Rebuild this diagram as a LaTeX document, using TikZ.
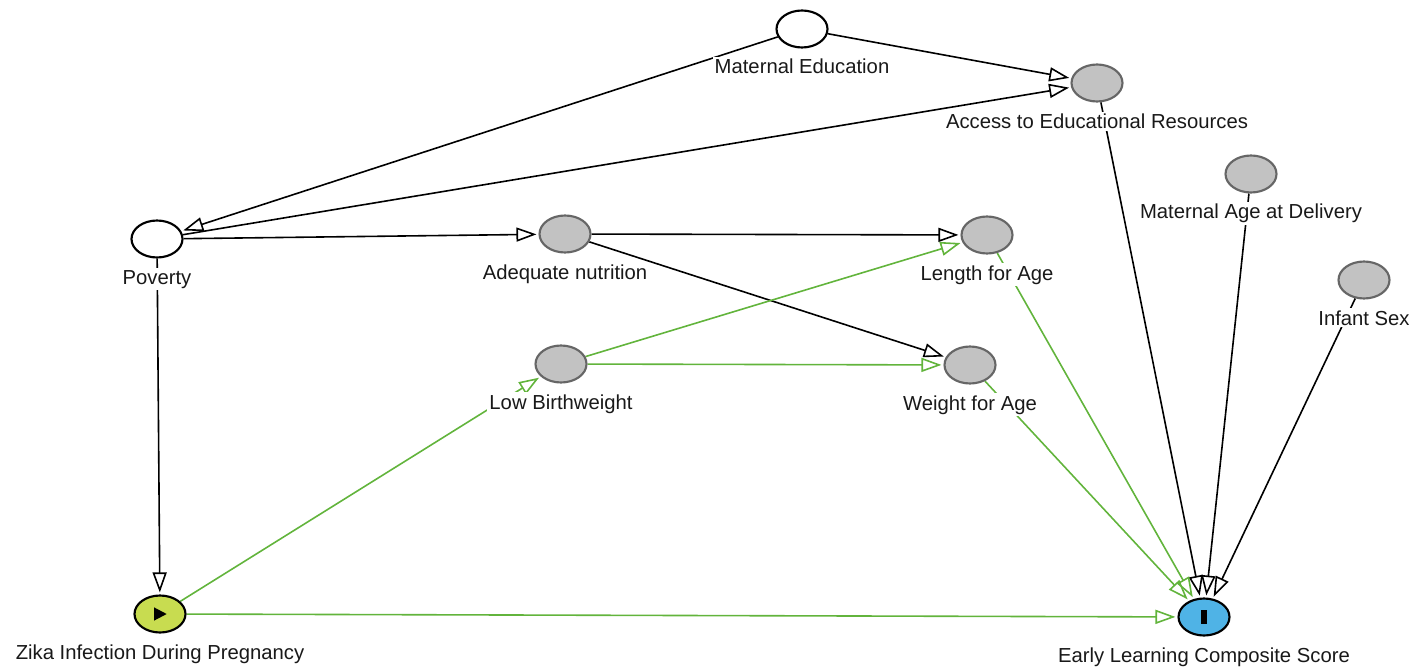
\documentclass[tikz,border=0pt]{standalone}
\usepackage{fontspec}
\setmainfont{Liberation Sans}
\usetikzlibrary{arrows.meta,shapes.geometric}
\pgfdeclarelayer{edges}
\pgfdeclarelayer{labels}
\pgfsetlayers{edges,labels,main}
\definecolor{nodegray}{HTML}{C2C2C2}
\definecolor{bordergray}{HTML}{666666}
\definecolor{expcol}{HTML}{C8DC50}
\definecolor{outcol}{HTML}{4FB3E6}
\definecolor{pathgreen}{HTML}{62B43C}
\tikzset{
  basenode/.style={ellipse, minimum width=38.25pt, minimum height=27.75pt, inner sep=0pt, line width=1.6pt},
  latent/.style={basenode, draw=black, fill=white},
  adjusted/.style={basenode, draw=bordergray, fill=nodegray},
  exposure/.style={basenode, draw=black, fill=expcol},
  outcome/.style={basenode, draw=black, fill=outcol},
  lbl/.style={anchor=base, fill=white, inner sep=1.5pt, text=black!90,
    font=\fontsize{15.2}{18}\selectfont},
  edge/.style={line width=1.2pt, shorten >=1.5pt,
    -{Triangle[open, length=15pt, width=10.5pt]}},
  blk/.style={edge, draw=black},
  grn/.style={edge, draw=pathgreen},
}
\begin{document}
\begin{tikzpicture}[x=0.75pt, y=-0.75pt]
\useasboundingbox (0,0) rectangle (1416,670);
% nodes
\node[latent]   (med)  at (802,29)  {};
\node[adjusted] (acc)  at (1097,83) {};
\node[adjusted] (age)  at (1251,174) {};
\node[adjusted] (sex)  at (1364,280) {};
\node[latent]   (pov)  at (157,239) {};
\node[adjusted] (adq)  at (565,234) {};
\node[adjusted] (len)  at (987,235) {};
\node[adjusted] (lbw)  at (561,364) {};
\node[adjusted] (wgt)  at (970,365) {};
\node[exposure] (zika) at (160,614) {};
\node[outcome]  (elc)  at (1204,617) {};
% symbols inside exposure and outcome
\fill[black] ([xshift=-4.5pt,yshift=5pt]zika.center) -- ([xshift=-4.5pt,yshift=-5pt]zika.center) -- ([xshift=5pt]zika.center) -- cycle;
\fill[black] ([xshift=-2pt,yshift=-5.5pt]elc.center) rectangle ([xshift=2pt,yshift=5.5pt]elc.center);
% labels
\begin{pgfonlayer}{labels}
\node[lbl] (medL)  at (802,74)  {Maternal Education};
\node[lbl] (accL)  at (1097,129) {Access to Educational Resources};
\node[lbl] (ageL)  at (1251,219) {Maternal Age at Delivery};
\node[lbl] (sexL)  at (1364,325) {Infant Sex};
\node[lbl] (povL)  at (157,284) {Poverty};
\node[lbl] (adqL)  at (565,279) {Adequate nutrition};
\node[lbl] (lenL)  at (987,280) {Length for Age};
\node[lbl] (lbwL)  at (561,409) {Low Birthweight};
\node[lbl] (wgtL)  at (970,410) {Weight for Age};
\node[lbl] (zikaL) at (160,659) {Zika Infection During Pregnancy};
\node[lbl] (elcL)  at (1204,662) {Early Learning Composite Score};
\end{pgfonlayer}
% edges
\begin{pgfonlayer}{edges}
\draw[blk] (med) -- (acc);
\draw[blk] (med) -- (pov);
\draw[blk] (pov) -- (acc);
\draw[blk] (pov) -- (adq);
\draw[blk] (pov) -- (zika);
\draw[blk] (adq) -- (len);
\draw[blk] (adq) -- (wgt);
\draw[blk] (acc) -- (elc);
\draw[blk] (age) -- (elc);
\draw[blk] (sex) -- (elc);
\draw[grn] (lbw) -- (len);
\draw[grn] (lbw) -- (wgt);
\draw[grn] (zika) -- (lbw);
\draw[grn] (zika) -- (elc);
\draw[grn] (len) -- (elc);
\draw[grn] (wgt) -- (elc);
\end{pgfonlayer}
\end{tikzpicture}
\end{document}
